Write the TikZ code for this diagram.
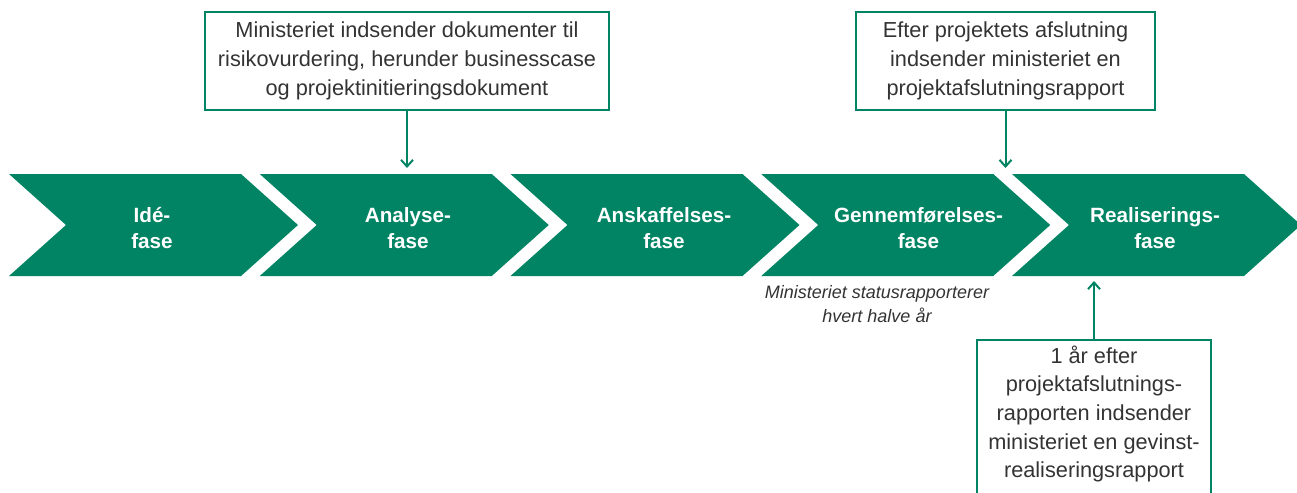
\documentclass[tikz,border=0pt]{standalone}
\usepackage{fontspec}
\setmainfont{Liberation Sans}
\usepackage{xcolor}
\usetikzlibrary{arrows.meta}
\definecolor{fasegroen}{RGB}{0,132,99}
\definecolor{tekstgraa}{RGB}{51,51,51}

\begin{document}
\begin{tikzpicture}[x=0.75pt,y=-0.75pt,
  fase/.style={text=white,align=center,font=\fontsize{15.5}{20}\selectfont\bfseries},
  boks/.style={draw=fasegroen,line width=1.5pt,text=tekstgraa,align=center,inner sep=0pt,font=\fontsize{16.3}{21.5}\selectfont},
  note/.style={text=tekstgraa,align=center,inner sep=0pt,font=\fontsize{13.5}{18}\selectfont\itshape},
  pil/.style={draw=fasegroen,line width=1.5pt,-{Straight Barb[length=5pt,width=9pt]}}]
\useasboundingbox (0,0) rectangle (1297,493);
\clip (0,0) rectangle (1297,493);
% Faserne
\foreach \x/\mx/\navn/\tekst in {9/152/fase1/{Idé-\\fase},259.75/408/fase2/{Analyse-\\fase},510.5/664/fase3/{Anskaffelses-\\fase},761.25/918.5/fase4/{Gennemførelses-\\fase},1012/1155/fase5/{Realiserings-\\fase}}{
  \fill[fasegroen] (\x,174) -- ++(232,0) -- ++(57,51) -- ++(-57,51) -- ++(-232,0) -- ++(57,-51) -- cycle;
  \node[fase] (\navn) at (\mx,228) {\tekst};
}
% Dokumenter til risikovurdering
\node[boks,minimum width=303pt,minimum height=73.5pt] (boks1) at (407,61) {Ministeriet indsender dokumenter til\\risikovurdering, herunder businesscase\\og projektinitieringsdokument};
\coordinate (ind1) at (407,168);
\draw[pil] (boks1.south) -- (ind1);
% Projektafslutningsrapport
\node[boks,minimum width=224.25pt,minimum height=73.5pt] (boks2) at (1005.5,61) {Efter projektets afslutning\\indsender ministeriet en\\projektafslutningsrapport};
\coordinate (ind2) at (1005.5,168);
\draw[pil] (boks2.south) -- (ind2);
% Statusrapportering
\node[note] (status) at (877,304) {Ministeriet statusrapporterer\\hvert halve år};
% Gevinstrealiseringsrapport
\node[boks,anchor=north,minimum width=175.5pt,minimum height=150pt] (boks3) at (1094,339) {};
\node[boks,draw=none] (tekst3) at (1094,414) {1 år efter\\projektafslutnings-\\rapporten indsender\\ministeriet en gevinst-\\realiseringsrapport};
\coordinate (ud3) at (1094,281);
\draw[pil] (boks3.north) -- (ud3);
\end{tikzpicture}
\end{document}
